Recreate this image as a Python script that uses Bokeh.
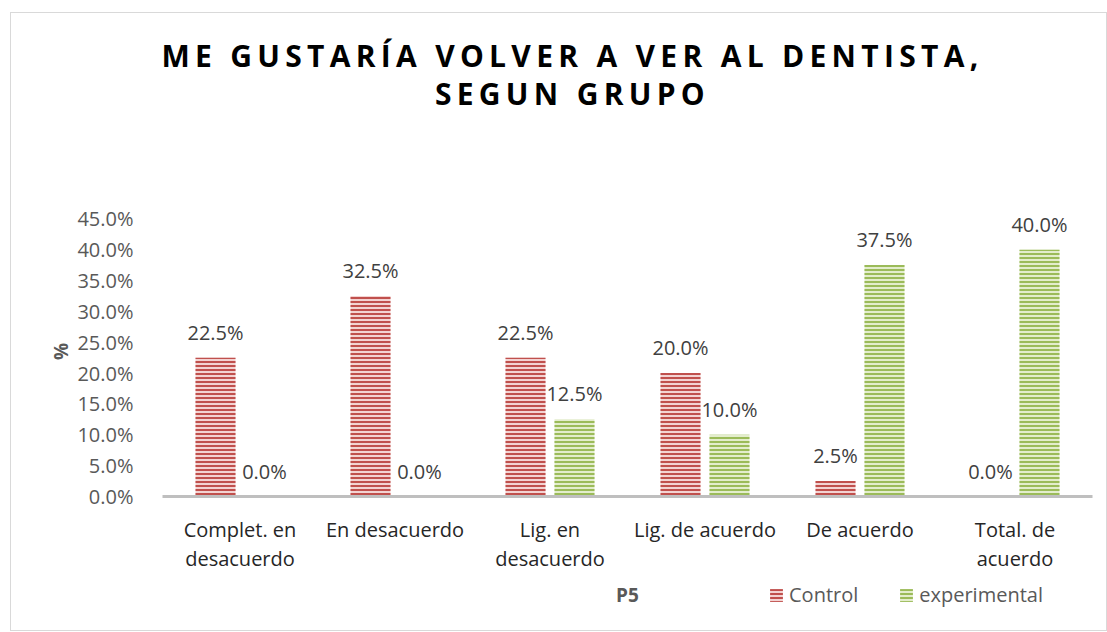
from bokeh.plotting import figure
from bokeh.models import (ColumnDataSource, FactorRange, Range1d, FixedTicker, NumeralTickFormatter,
                          LabelSet, Label, Legend, LegendItem, Div)
from bokeh.core.properties import value
from bokeh.transform import dodge
from bokeh.layouts import column
from bokeh.embed import file_html
from bokeh.resources import INLINE

categories = ["Complet. en\ndesacuerdo", "En desacuerdo", "Lig. en\ndesacuerdo",
              "Lig. de acuerdo", "De acuerdo", "Total. de\nacuerdo"]
control = [0.225, 0.325, 0.225, 0.200, 0.025, 0.000]
experimental = [0.000, 0.000, 0.125, 0.100, 0.375, 0.400]
y_ticks = [0.0, 0.05, 0.10, 0.15, 0.20, 0.25, 0.30, 0.35, 0.40, 0.45]
series_names = ["Control", "experimental"]
x_title = "P5"
title_lines = ["ME GUSTARÍA VOLVER A VER AL DENTISTA,", "SEGUN GRUPO"]

FONT = "Open Sans"
RED, RED_BG = "#c0504d", "#f3d3d2"
GREEN, GREEN_BG = "#9bbb59", "#e3edcc"

src = ColumnDataSource(dict(
    cat=categories,
    control=control,
    experimental=experimental,
    control_lbl=[f"{v*100:.1f}%" for v in control],
    experimental_lbl=[f"{v*100:.1f}%" for v in experimental],
))

W = 1095
title_div = Div(
    text=("<div style=\"width:%dpx;box-sizing:border-box;font-family:'Open Sans';font-weight:bold;"
          "font-size:30px;letter-spacing:5.3px;text-align:center;line-height:38px;color:#000;"
          "padding-top:24px;padding-left:28px;\">" % W
          + title_lines[0] + "<br>" + title_lines[1] + "</div>"),
    width=W, height=150, margin=(0, 0, 0, 0),
)

p = figure(x_range=FactorRange(factors=categories, range_padding=0),
           y_range=Range1d(0, 0.47),
           width=W, height=412, output_backend="svg", toolbar_location=None,
           min_border_left=151, min_border_right=14, min_border_top=43, min_border_bottom=79,
           margin=(0, 0, 0, 0))
p.outline_line_color = None
p.xgrid.grid_line_color = None
p.ygrid.grid_line_color = None

bar_style = dict(width=0.258, source=src, line_color=None,
                 hatch_pattern="horizontal_line", hatch_weight=2, hatch_scale=4)
r1 = p.vbar(x=dodge("cat", -0.158, range=p.x_range), top="control",
            fill_color=RED_BG, hatch_color=RED, **bar_style)
r2 = p.vbar(x=dodge("cat", 0.158, range=p.x_range), top="experimental",
            fill_color=GREEN_BG, hatch_color=GREEN, **bar_style)

for col, off in (("control", -0.158), ("experimental", 0.158)):
    p.add_layout(LabelSet(x=dodge("cat", off, range=p.x_range), y=col, text=col + "_lbl", source=src,
                          text_align="center", text_baseline="alphabetic", y_offset=18,
                          text_font=value(FONT), text_font_size="20px", text_color="#404040"))

# axes
p.yaxis.ticker = FixedTicker(ticks=y_ticks)
p.yaxis.formatter = NumeralTickFormatter(format="0.0%")
p.yaxis.axis_line_color = None
p.yaxis.major_tick_line_color = None
p.yaxis.minor_tick_line_color = None
p.yaxis.major_label_standoff = 23
p.yaxis.major_label_text_font = FONT
p.yaxis.major_label_text_font_size = "20px"
p.yaxis.major_label_text_color = "#595959"
p.yaxis.axis_label = "%"
p.yaxis.axis_label_text_font = FONT
p.yaxis.axis_label_text_font_style = "bold"
p.yaxis.axis_label_text_font_size = "19px"
p.yaxis.axis_label_text_color = "#595959"
p.yaxis.axis_label_standoff = 0

p.xaxis.axis_line_color = "#bfbfbf"
p.xaxis.axis_line_width = 3
p.xaxis.major_tick_line_color = None
p.xaxis.minor_tick_line_color = None
p.xaxis.major_label_standoff = 13
p.xaxis.major_label_text_font = FONT
p.xaxis.major_label_text_font_size = "20px"
p.xaxis.major_label_text_line_height = 1.1
p.xaxis.major_label_text_color = "#262626"
p.xaxis.major_label_orientation = "horizontal"

# bottom strip with axis title and legend (its frame is aligned with the main frame)
H2 = 55
FW = 930  # width of the aligned plot frame
p2 = figure(x_range=Range1d(0, FW), y_range=Range1d(0, H2), width=W, height=H2,
            output_backend="svg", toolbar_location=None,
            min_border_left=0, min_border_right=0, min_border_top=0, min_border_bottom=0,
            margin=(0, 0, 0, 0))
p2.axis.visible = False
p2.grid.visible = False
p2.outline_line_color = None
p2.title.visible = False

d1 = p2.vbar(x=[0], top=[0], width=0.0, fill_color=RED_BG, hatch_color=RED, line_color=None,
             hatch_pattern="horizontal_line", hatch_weight=2, hatch_scale=4)
d2 = p2.vbar(x=[0], top=[0], width=0.0, fill_color=GREEN_BG, hatch_color=GREEN, line_color=None,
             hatch_pattern="horizontal_line", hatch_weight=2, hatch_scale=4)

p2.add_layout(Label(x=FW / 2, y=36, text=x_title, text_align="center", text_baseline="middle",
                    text_font=FONT, text_font_style="bold", text_font_size="19px",
                    text_color="#595959"))

legend = Legend(items=[LegendItem(label=series_names[0], renderers=[d1]),
                       LegendItem(label=series_names[1], renderers=[d2])],
                orientation="horizontal", location=(606, 22),
                glyph_width=16, glyph_height=16, label_standoff=5, spacing=40,
                padding=0, margin=0, border_line_color=None, background_fill_alpha=0,
                label_text_font=FONT, label_text_font_size="20px", label_text_color="#595959")
p2.add_layout(legend, "center")

layout = column(title_div, p, p2, margin=(12, 0, 0, 10),
                styles={"border": "1px solid #d9d9d9"})

open("out.html", "w").write(file_html(layout, INLINE))
